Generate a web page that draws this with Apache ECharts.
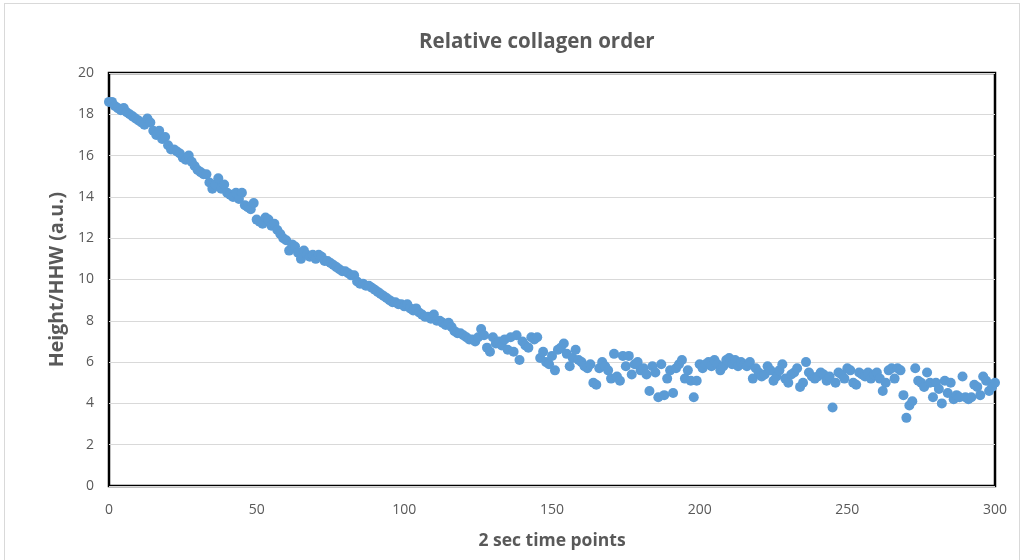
<!DOCTYPE html>
<html>
<head>
<meta charset="utf-8">
<script src="https://cdn.jsdelivr.net/npm/echarts@6/dist/echarts.min.js"></script>
<style>
html,body{margin:0;padding:0;background:#fff;}
#frame{position:absolute;left:4px;top:3px;width:1016px;height:560px;border:1px solid #d9d9d9;box-sizing:border-box;}
#chart{position:absolute;left:0;top:0;width:1027px;height:560px;}
</style>
</head>
<body>
<div id="frame"></div>
<div id="chart"></div>
<script>
const titleText = "Relative collagen order";
const xAxisName = "2 sec time points";
const yAxisName = "Height/HHW (a.u.)";
const timePoints = Array.from({length: 301}, (_, i) => i);
const heightValues = [
  18.6, 18.6, 18.4, 18.3, 18.2, 18.3, 18.1, 18.0, 17.9, 17.8,
  17.7, 17.6, 17.5, 17.8, 17.6, 17.2, 17.0, 17.2, 16.8, 16.9,
  16.5, 16.3, 16.3, 16.2, 16.1, 15.9, 15.8, 16.0, 15.7, 15.5,
  15.3, 15.2, 15.1, 15.1, 14.7, 14.4, 14.6, 14.9, 14.4, 14.6,
  14.2, 14.1, 14.0, 14.2, 13.9, 14.2, 13.6, 13.5, 13.4, 13.7,
  12.9, 12.8, 12.7, 13.0, 12.9, 12.6, 12.7, 12.4, 12.2, 12.0,
  11.9, 11.4, 11.7, 11.6, 11.3, 11.0, 11.4, 11.2, 11.1, 11.2,
  11.0, 11.2, 11.1, 10.9, 10.9, 10.8, 10.7, 10.6, 10.5, 10.4,
  10.4, 10.3, 10.2, 10.2, 9.9, 9.8, 9.8, 9.7, 9.7, 9.6,
  9.5, 9.4, 9.3, 9.2, 9.1, 9.0, 8.9, 8.9, 8.8, 8.8,
  8.7, 8.8, 8.6, 8.5, 8.6, 8.4, 8.3, 8.2, 8.2, 8.1,
  8.3, 8.0, 8.0, 7.9, 7.8, 7.9, 7.7, 7.5, 7.4, 7.4,
  7.3, 7.2, 7.1, 7.1, 7.0, 7.2, 7.6, 7.3, 6.7, 6.5,
  7.2, 6.9, 7.0, 6.8, 7.1, 6.6, 7.2, 6.5, 7.3, 6.1,
  7.0, 6.8, 6.7, 7.2, 7.1, 7.2, 6.2, 6.5, 6.0, 5.9,
  6.3, 5.6, 6.6, 6.7, 6.9, 6.4, 5.8, 6.2, 6.6, 6.1,
  6.0, 5.8, 5.7, 5.9, 5.0, 4.9, 5.7, 6.0, 5.8, 5.6,
  5.2, 6.4, 5.3, 5.1, 6.3, 5.8, 6.3, 5.4, 5.9, 6.0,
  5.6, 5.7, 5.4, 4.6, 5.8, 5.5, 4.3, 5.9, 4.4, 5.2,
  5.6, 4.5, 5.7, 5.9, 6.1, 5.2, 5.6, 5.1, 4.3, 5.1,
  5.9, 5.7, 5.9, 6.0, 5.8, 6.1, 5.9, 5.6, 5.8, 6.1,
  6.2, 5.9, 6.1, 5.8, 6.0, 5.9, 5.8, 6.0, 5.2, 5.7,
  5.5, 5.3, 5.4, 5.8, 5.6, 5.1, 5.3, 5.6, 5.9, 5.2,
  5.0, 5.4, 5.5, 5.7, 4.8, 5.0, 6.0, 5.5, 5.3, 5.2,
  5.3, 5.5, 5.4, 5.1, 5.3, 3.8, 5.0, 5.5, 5.4, 5.2,
  5.7, 5.6, 5.0, 4.9, 5.5, 5.4, 5.3, 5.5, 5.2, 5.4,
  5.5, 5.2, 4.6, 5.0, 5.6, 5.7, 5.2, 5.7, 5.6, 4.4,
  3.3, 3.9, 4.1, 5.7, 5.1, 5.0, 4.8, 5.5, 5.0, 4.3,
  5.0, 4.7, 4.0, 5.1, 4.5, 5.0, 4.2, 4.4, 4.3, 5.3,
  4.3, 4.2, 4.3, 4.9, 4.8, 4.4, 5.3, 5.1, 4.6, 4.8,
  5.0
];
const xTicks = {min: 0, max: 300, interval: 50};
const yTicks = {min: 0, max: 20, interval: 2};

const chart = echarts.init(document.getElementById('chart'));
chart.setOption({
  animation: false,
  title: {
    text: titleText, left: 414, top: 27,
    textStyle: {fontFamily: 'Open Sans', fontSize: 20.5, fontWeight: 'bold', color: '#595959'}
  },
  grid: {left: 109, right: 32, top: 73, bottom: 74, show: true, borderColor: '#000', borderWidth: 2.5, backgroundColor: 'transparent'},
  xAxis: {
    type: 'value', min: xTicks.min, max: xTicks.max, interval: xTicks.interval,
    name: xAxisName, nameLocation: 'middle', nameGap: 46,
    nameTextStyle: {fontFamily: 'Open Sans', fontSize: 17.5, fontWeight: 'bold', color: '#595959'},
    axisLine: {show: false}, axisTick: {show: false},
    axisLabel: {fontFamily: 'Open Sans', fontSize: 14, color: '#595959', margin: 17},
    splitLine: {show: false}
  },
  yAxis: {
    type: 'value', min: yTicks.min, max: yTicks.max, interval: yTicks.interval,
    name: yAxisName, nameLocation: 'middle', nameGap: 42,
    nameTextStyle: {fontFamily: 'Open Sans', fontSize: 19.5, fontWeight: 'bold', color: '#595959'},
    axisLine: {show: false}, axisTick: {show: false},
    axisLabel: {fontFamily: 'Open Sans', fontSize: 14, color: '#595959', margin: 15},
    splitLine: {show: true, lineStyle: {color: '#d9d9d9', width: 1}}
  },
  series: [{
    type: 'scatter',
    data: timePoints.map((t, i) => [t, heightValues[i]]),
    symbol: 'circle', symbolSize: 10,
    itemStyle: {color: '#5B9BD5', opacity: 1},
    z: 1
  }]
});
</script>
</body>
</html>
